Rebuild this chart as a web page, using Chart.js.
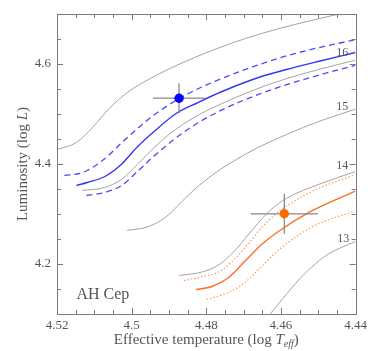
<!DOCTYPE html>
<html>
<head>
<meta charset="utf-8">
<script src="https://cdn.jsdelivr.net/npm/chart.js@4.4.1/dist/chart.umd.min.js"></script>
<style>
  html, body { margin: 0; padding: 0; background: #fff; }
  #wrap { width: 371px; height: 351px; }
</style>
</head>
<body>
<div id="wrap"><canvas id="hrd" width="371" height="351"></canvas></div>
<script>
// evolutionary tracks, log Teff vs log L
const trackTopT = [4.52, 4.5148, 4.5105, 4.506, 4.5015, 4.4972, 4.4927, 4.4873, 4.4785, 4.4695, 4.4607, 4.4519, 4.442, 4.436];
const trackTopL = [4.429, 4.443, 4.473, 4.511, 4.541, 4.562, 4.580, 4.5995, 4.627, 4.651, 4.6705, 4.687, 4.704, 4.714];

const blueHiT = [4.518, 4.514, 4.5119, 4.5073, 4.5028, 4.4985, 4.4932, 4.4852, 4.4761, 4.4665, 4.4585, 4.4495, 4.4401];
const blueHiL = [4.377, 4.381, 4.387, 4.410, 4.4415, 4.4707, 4.5025, 4.5393, 4.5702, 4.5971, 4.6163, 4.6334, 4.6484];

const blueMidT = [4.5148, 4.5119, 4.5073, 4.5028, 4.4985, 4.494, 4.4879, 4.4825, 4.4761, 4.466, 4.4585, 4.4495, 4.4401];
const blueMidL = [4.357, 4.363, 4.3745, 4.399, 4.434, 4.465, 4.502, 4.522, 4.544, 4.573, 4.589, 4.606, 4.623];

const blueLoT = [4.5121, 4.5073, 4.5028, 4.4985, 4.494, 4.4887, 4.4825, 4.4748, 4.466, 4.4585, 4.4495, 4.4401];
const blueLoL = [4.337, 4.343, 4.3565, 4.3845, 4.416, 4.4489, 4.4811, 4.5119, 4.5392, 4.5587, 4.5785, 4.5973];

const track16T = [4.5132, 4.5073, 4.5028, 4.4985, 4.494, 4.4895, 4.4833, 4.4772, 4.4673, 4.4585, 4.4495, 4.4401];
const track16L = [4.347, 4.353, 4.3688, 4.3989, 4.4327, 4.462, 4.493, 4.5162, 4.5479, 4.5708, 4.5897, 4.6076];

const track15T = [4.5012, 4.4953, 4.4908, 4.4865, 4.4833, 4.478, 4.4719, 4.466, 4.4585, 4.4495, 4.4401];
const track15L = [4.267, 4.2753, 4.2942, 4.3252, 4.3482, 4.380, 4.4093, 4.4335, 4.459, 4.486, 4.5095];

const track14T = [4.4873, 4.4807, 4.4761, 4.4719, 4.4673, 4.4628, 4.4585, 4.4495, 4.4401];
const track14L = [4.177, 4.1849, 4.201, 4.2304, 4.2718, 4.3078, 4.3315, 4.3603, 4.3847];

const orangeHiT = [4.486, 4.4807, 4.4761, 4.4719, 4.4687, 4.4652, 4.4607, 4.4519, 4.4401];
const orangeHiL = [4.167, 4.175, 4.1865, 4.2138, 4.241, 4.2725, 4.304, 4.3445, 4.3787];

const orangeMidT = [4.4828, 4.4785, 4.474, 4.4695, 4.4652, 4.4607, 4.4519, 4.4401];
const orangeMidL = [4.149, 4.155, 4.173, 4.2068, 4.239, 4.2651, 4.3056, 4.3457];

const orangeLoT = [4.4799, 4.474, 4.4695, 4.4652, 4.4607, 4.4561, 4.45, 4.4401];
const orangeLoL = [4.129, 4.1432, 4.1639, 4.1949, 4.2273, 4.254, 4.2802, 4.306];

const track13T = [4.4645, 4.4628, 4.4607, 4.4561, 4.4519, 4.4473, 4.4401];
const track13L = [4.085, 4.101, 4.120, 4.161, 4.193, 4.220, 4.245];

// the two components: [logTeff, logL, err logTeff, err logL]
const primaryStar = [4.4873, 4.5316, 0.007, 0.03];
const secondaryStar = [4.4591, 4.3004, 0.009, 0.04];

// mass labels on the tracks
const massLabels = ['16', '15', '14', '13'];
const massLabelT = [4.4436, 4.4436, 4.4436, 4.4433];
const massLabelL = [4.623, 4.515, 4.397, 4.251];

const starName = 'AH Cep';

const axisGray = '#7a7a7a';
const textGray = '#555';
const serif = '"Liberation Serif", "DejaVu Serif", serif';

function pts(T, L) {
  return T.map((t, i) => ({ x: t, y: L[i] }));
}

function track(T, L, color, width, dash) {
  return {
    type: 'line',
    data: pts(T, L),
    borderColor: color,
    borderWidth: width,
    borderDash: dash || [],
    pointRadius: 0,
    cubicInterpolationMode: 'monotone',
    fill: false,
    clip: 0
  };
}

function errBars(s) {
  return [
    track([s[0] + s[2], s[0] - s[2]], [s[1], s[1]], '#8a8a8a', 1.3),
    track([s[0], s[0]], [s[1] - s[3], s[1] + s[3]], '#8a8a8a', 1.3)
  ];
}

const datasets = [
  { type: 'scatter', data: [{ x: primaryStar[0], y: primaryStar[1] }], backgroundColor: '#0000ff', borderWidth: 0, pointRadius: 4.7 },
  { type: 'scatter', data: [{ x: secondaryStar[0], y: secondaryStar[1] }], backgroundColor: '#ff6a00', borderWidth: 0, pointRadius: 4.7 },
  ...errBars(primaryStar),
  ...errBars(secondaryStar),
  track(blueHiT, blueHiL, '#4a4aff', 1.3, [6, 4]),
  track(blueMidT, blueMidL, '#3535f5', 1.4),
  track(blueLoT, blueLoL, '#4a4aff', 1.3, [6, 4]),
  track(orangeHiT, orangeHiL, '#ff9a5c', 1.2, [1.5, 2]),
  track(orangeMidT, orangeMidL, '#ff6e22', 1.4),
  track(orangeLoT, orangeLoL, '#ff9a5c', 1.2, [1.5, 2]),
  track(trackTopT, trackTopL, '#a3a3a3', 1),
  track(track16T, track16L, '#a3a3a3', 1),
  track(track15T, track15L, '#a3a3a3', 1),
  track(track14T, track14L, '#a3a3a3', 1),
  track(track13T, track13L, '#a3a3a3', 1)
];

function isMajor(v, step) {
  return Math.abs(Math.round(v / step) * step - v) < 1e-6;
}

// draws runs of [text, font, dy] centred on (cx, cy) in the current transform
function drawRuns(ctx, runs, cx, cy) {
  let w = 0;
  runs.forEach(r => { ctx.font = r[1]; w += ctx.measureText(r[0]).width; });
  let px = cx - w / 2;
  runs.forEach(r => {
    ctx.font = r[1];
    ctx.fillText(r[0], px, cy + r[2]);
    px += ctx.measureText(r[0]).width;
  });
}

// frame with inward ticks on all four sides, plus text annotations
const frameTicks = {
  id: 'frameTicks',
  afterDraw(chart) {
    const { ctx, chartArea: a, scales } = chart;
    const x = scales.x, y = scales.y;
    ctx.save();
    ctx.strokeStyle = axisGray;
    ctx.lineWidth = 1;
    ctx.strokeRect(Math.round(a.left) + 0.5, Math.round(a.top) + 0.5, Math.round(a.right - a.left), Math.round(a.bottom - a.top));
    ctx.beginPath();
    x.ticks.forEach(t => {
      const px = Math.round(x.getPixelForValue(t.value)) + 0.5;
      const len = isMajor(t.value, 0.02) ? 6 : 4;
      ctx.moveTo(px, a.bottom); ctx.lineTo(px, a.bottom - len);
      ctx.moveTo(px, a.top); ctx.lineTo(px, a.top + len);
    });
    y.ticks.forEach(t => {
      const py = Math.round(y.getPixelForValue(t.value)) + 0.5;
      const len = isMajor(t.value, 0.2) ? 6 : 4;
      ctx.moveTo(a.left, py); ctx.lineTo(a.left + len, py);
      ctx.moveTo(a.right, py); ctx.lineTo(a.right - len, py);
    });
    ctx.stroke();

    ctx.fillStyle = textGray;
    ctx.font = '12px ' + serif;
    ctx.textAlign = 'center';
    ctx.textBaseline = 'middle';
    massLabels.forEach((m, i) => {
      ctx.fillText(m, x.getPixelForValue(massLabelT[i]), y.getPixelForValue(massLabelL[i]));
    });
    ctx.font = '16px ' + serif;
    ctx.textAlign = 'left';
    ctx.fillText(starName, x.getPixelForValue(4.5148), y.getPixelForValue(4.139));

    // axis titles with italic symbols
    const f = '15px ' + serif, fi = 'italic 15px ' + serif, fs = 'italic 10px ' + serif;
    ctx.textBaseline = 'alphabetic';
    drawRuns(ctx, [['Effective temperature (log ', f, 0], ['T', fi, 0], ['eff', fs, 3], [')', f, 0]],
      (a.left + a.right) / 2, 344);
    ctx.translate(27, (a.top + a.bottom) / 2);
    ctx.rotate(-Math.PI / 2);
    drawRuns(ctx, [['Luminosity (log ', f, 0], ['L', fi, 0], [')', f, 0]], 0, 0);
    ctx.restore();
  }
};

new Chart(document.getElementById('hrd'), {
  type: 'scatter',
  data: { datasets },
  plugins: [frameTicks],
  options: {
    responsive: false,
    animation: false,
    layout: { padding: { left: 0, top: 14, right: 13, bottom: 0 } },
    plugins: { legend: { display: false }, tooltip: { enabled: false } },
    scales: {
      x: {
        type: 'linear',
        reverse: true,
        min: 4.44,
        max: 4.52,
        afterFit(s) { s.height = 37; },
        grid: { display: false, drawTicks: false },
        border: { display: false },
        ticks: {
          stepSize: 0.005,
          autoSkip: false,
          maxRotation: 0,
          padding: 4,
          color: textGray,
          font: { family: serif, size: 13 },
          callback: v => isMajor(v, 0.02) ? String(parseFloat(v.toFixed(3))) : ''
        }
      },
      y: {
        type: 'linear',
        min: 4.1,
        max: 4.7,
        afterFit(s) { s.width = 57; },
        grid: { display: false, drawTicks: false },
        border: { display: false },
        ticks: {
          stepSize: 0.05,
          autoSkip: false,
          padding: 6,
          color: textGray,
          font: { family: serif, size: 13 },
          callback: v => isMajor(v, 0.2) ? String(parseFloat(v.toFixed(2))) : ''
        }
      }
    }
  }
});
</script>
</body>
</html>
